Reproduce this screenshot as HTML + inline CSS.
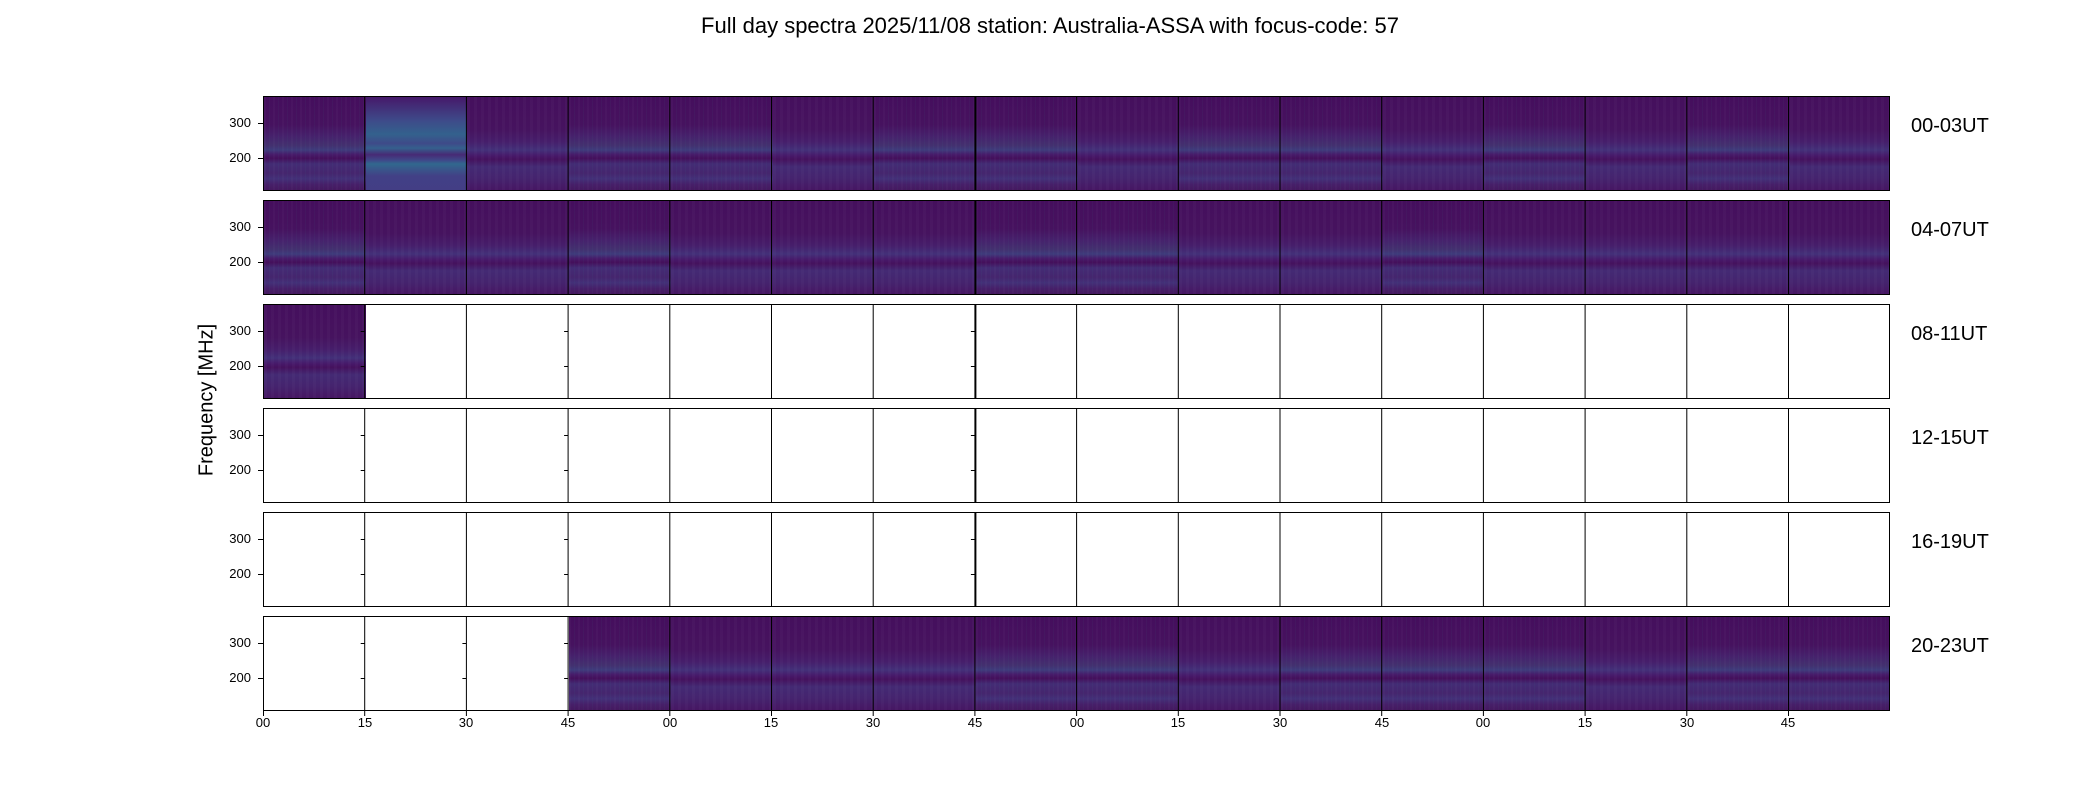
<!DOCTYPE html>
<html><head><style>
body{margin:0;width:2100px;height:800px;background:#fff;position:relative;font-family:"Liberation Sans","DejaVu Sans",sans-serif;overflow:hidden}
.t{position:absolute;white-space:nowrap;color:#000}
.row{position:absolute;left:263px;width:1627px;height:95px;box-sizing:border-box;border:1px solid #000;overflow:hidden}
.c{position:absolute;top:0;height:93px;width:103px;box-sizing:border-box}
.d{background:
 repeating-linear-gradient(90deg,rgba(255,255,255,0.025) 0 2px,rgba(0,0,0,0) 2px 5px,rgba(60,150,140,0.05) 5px 6px,rgba(0,0,0,0) 6px 9px),
 linear-gradient(180deg,#450e5d 0%,#46125f 30%,#46216c 42%,#43306f 52%,#3f3b7c 57%,#471a69 62%,#440f5b 66%,#432c75 72%,#45256e 82%,#433078 88%,#461f69 94%,#45195f 100%)}
.d2{background:
 repeating-linear-gradient(90deg,rgba(255,255,255,0.025) 0 3px,rgba(0,0,0,0) 3px 7px),
 linear-gradient(180deg,#450f5d 0%,#46135f 35%,#461e6b 48%,#433079 57%,#47196a 63%,#45115d 67%,#442a74 75%,#45236e 88%,#461663 100%)}
.yl{position:absolute;font-size:13px;text-align:right;width:40px}
.rl{position:absolute;left:1911px;font-size:20px}
.xl{position:absolute;top:715px;font-size:13px;width:30px;text-align:center}
</style></head><body>
<div class="t" style="left:0;width:2100px;text-align:center;top:13px;font-size:22px">Full day spectra 2025/11/08 station: Australia-ASSA with focus-code: 57</div>
<div class="t" style="left:207px;top:400px;font-size:20px;transform:translate(-50%,-50%) rotate(-90deg)">Frequency [MHz]</div>

<div class="row" style="top:96px">
<div class="c d" style="left:0"></div><div class="c d2" style="left:101.7px;background:linear-gradient(180deg,#46196a 0%,#3e4a89 25%,#33618d 40%,#3e4a89 50%,#35608d 55%,#472a75 62%,#3f4889 68%,#31688e 72%,#424086 85%,#433e85 100%)"></div><div class="c d2" style="left:203.4px"></div><div class="c d" style="left:305.1px"></div><div class="c d" style="left:406.8px"></div><div class="c d2" style="left:508.5px"></div><div class="c d" style="left:610.2px"></div><div class="c d" style="left:711.9px"></div><div class="c d2" style="left:813.6px"></div><div class="c d" style="left:915.3px"></div><div class="c d" style="left:1017px"></div><div class="c d2" style="left:1118.7px"></div><div class="c d" style="left:1220.4px"></div><div class="c d2" style="left:1322.1px"></div><div class="c d" style="left:1423.8px"></div><div class="c d2" style="left:1525.5px"></div>
</div>
<div class="row" style="top:200px">
<div class="c d" style="left:0"></div><div class="c d2" style="left:101.7px"></div><div class="c d2" style="left:203.4px"></div><div class="c d" style="left:305.1px"></div><div class="c d2" style="left:406.8px"></div><div class="c d2" style="left:508.5px"></div><div class="c d2" style="left:610.2px"></div><div class="c d" style="left:711.9px"></div><div class="c d" style="left:813.6px"></div><div class="c d2" style="left:915.3px"></div><div class="c d2" style="left:1017px"></div><div class="c d" style="left:1118.7px"></div><div class="c d2" style="left:1220.4px"></div><div class="c d2" style="left:1322.1px"></div><div class="c d2" style="left:1423.8px"></div><div class="c d2" style="left:1525.5px"></div>
</div>
<div class="row" style="top:304px"><div class="c d2" style="left:0;width:101.7px"></div></div>
<div class="row" style="top:408px"></div>
<div class="row" style="top:512px"></div>
<div class="row" style="top:616px">
<div class="c d" style="left:305.1px"></div><div class="c d2" style="left:406.8px"></div><div class="c d2" style="left:508.5px"></div><div class="c d2" style="left:610.2px"></div><div class="c d" style="left:711.9px"></div><div class="c d" style="left:813.6px"></div><div class="c d2" style="left:915.3px"></div><div class="c d" style="left:1017px"></div><div class="c d" style="left:1118.7px"></div><div class="c d" style="left:1220.4px"></div><div class="c d2" style="left:1322.1px"></div><div class="c d" style="left:1423.8px"></div><div class="c d" style="left:1525.5px"></div>
</div>

<svg style="position:absolute;left:0;top:0" width="2100" height="800">
<g stroke="#000" stroke-width="1">
<path d="
M364.7 96V191M466.4 96V191M568.1 96V191M669.8 96V191M771.5 96V191M873.2 96V191M974.9 96V191M1076.6 96V191M1178.3 96V191M1280 96V191M1381.7 96V191M1483.4 96V191M1585.1 96V191M1686.8 96V191M1788.5 96V191
M364.7 200V295M466.4 200V295M568.1 200V295M669.8 200V295M771.5 200V295M873.2 200V295M974.9 200V295M1076.6 200V295M1178.3 200V295M1280 200V295M1381.7 200V295M1483.4 200V295M1585.1 200V295M1686.8 200V295M1788.5 200V295
M364.7 304V399M466.4 304V399M568.1 304V399M669.8 304V399M771.5 304V399M873.2 304V399M974.9 304V399M1076.6 304V399M1178.3 304V399M1280 304V399M1381.7 304V399M1483.4 304V399M1585.1 304V399M1686.8 304V399M1788.5 304V399
M364.7 408V503M466.4 408V503M568.1 408V503M669.8 408V503M771.5 408V503M873.2 408V503M974.9 408V503M1076.6 408V503M1178.3 408V503M1280 408V503M1381.7 408V503M1483.4 408V503M1585.1 408V503M1686.8 408V503M1788.5 408V503
M364.7 512V607M466.4 512V607M568.1 512V607M669.8 512V607M771.5 512V607M873.2 512V607M974.9 512V607M1076.6 512V607M1178.3 512V607M1280 512V607M1381.7 512V607M1483.4 512V607M1585.1 512V607M1686.8 512V607M1788.5 512V607
M364.7 616V711M466.4 616V711M568.1 616V711M669.8 616V711M771.5 616V711M873.2 616V711M974.9 616V711M1076.6 616V711M1178.3 616V711M1280 616V711M1381.7 616V711M1483.4 616V711M1585.1 616V711M1686.8 616V711M1788.5 616V711
M975.9 96V191M975.9 200V295M975.9 304V399M975.9 408V503M975.9 512V607
"/>
<path d="M258 123.5H263M258 158.5H263M258 227.5H263M258 262.5H263M258 331.5H263M258 366.5H263M258 435.5H263M258 470.5H263M258 539.5H263M258 574.5H263M258 643.5H263M258 678.5H263"/>
<path d="M360.7 331.5h4M360.7 366.5h4M360.7 435.5h4M360.7 470.5h4M360.7 539.5h4M360.7 574.5h4M360.7 643.5h4M360.7 678.5h4M970.9 331.5h4M970.9 366.5h4M970.9 435.5h4M970.9 470.5h4M970.9 539.5h4M970.9 574.5h4
M564.1 643.5h4M564.1 678.5h4M462.4 643.5h4M462.4 678.5h4M564.1 331.5h4M564.1 366.5h4M564.1 435.5h4M564.1 470.5h4M564.1 539.5h4M564.1 574.5h4"/>
<path d="M263.5 711v5M364.7 711v5M466.4 711v5M568.1 711v5M669.8 711v5M771.5 711v5M873.2 711v5M974.9 711v5M1076.6 711v5M1178.3 711v5M1280 711v5M1381.7 711v5M1483.4 711v5M1585.1 711v5M1686.8 711v5M1788.5 711v5"/>
</g>
</svg>

<div class="yl" style="left:211px;top:115px">300</div><div class="yl" style="left:211px;top:150px">200</div>
<div class="yl" style="left:211px;top:219px">300</div><div class="yl" style="left:211px;top:254px">200</div>
<div class="yl" style="left:211px;top:323px">300</div><div class="yl" style="left:211px;top:358px">200</div>
<div class="yl" style="left:211px;top:427px">300</div><div class="yl" style="left:211px;top:462px">200</div>
<div class="yl" style="left:211px;top:531px">300</div><div class="yl" style="left:211px;top:566px">200</div>
<div class="yl" style="left:211px;top:635px">300</div><div class="yl" style="left:211px;top:670px">200</div>

<div class="rl" style="top:115px">00-03UT</div>
<div class="rl" style="top:219px">04-07UT</div>
<div class="rl" style="top:323px">08-11UT</div>
<div class="rl" style="top:427px">12-15UT</div>
<div class="rl" style="top:531px">16-19UT</div>
<div class="rl" style="top:635px">20-23UT</div>

<div class="xl" style="left:248px">00</div><div class="xl" style="left:350px">15</div><div class="xl" style="left:451px">30</div><div class="xl" style="left:553px">45</div>
<div class="xl" style="left:655px">00</div><div class="xl" style="left:756px">15</div><div class="xl" style="left:858px">30</div><div class="xl" style="left:960px">45</div>
<div class="xl" style="left:1062px">00</div><div class="xl" style="left:1163px">15</div><div class="xl" style="left:1265px">30</div><div class="xl" style="left:1367px">45</div>
<div class="xl" style="left:1468px">00</div><div class="xl" style="left:1570px">15</div><div class="xl" style="left:1672px">30</div><div class="xl" style="left:1773px">45</div>
</body></html>
